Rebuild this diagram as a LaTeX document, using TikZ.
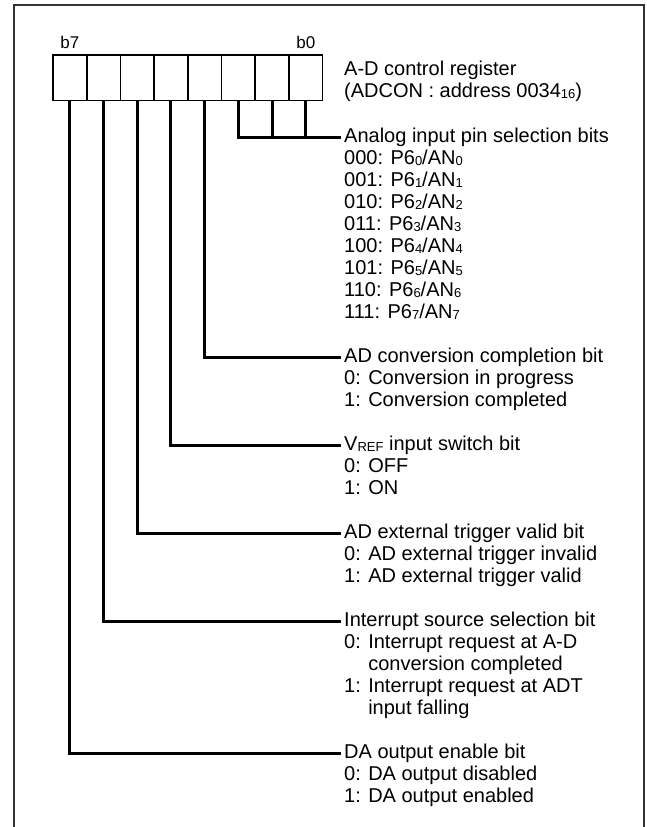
\documentclass[tikz,border=0pt]{standalone}
\usepackage{fontspec}
\setmainfont{Liberation Sans}
\usetikzlibrary{positioning}

\newcommand{\lowidx}[1]{{\fontsize{13}{13}\selectfont\raisebox{-0.5pt}{#1}}}

\begin{document}
\begin{tikzpicture}[
    x=1pt, y=-1pt, % work in pixels, y pointing down
    cell/.style={draw, line width=1.7pt, minimum width=33.7pt, minimum height=45.5pt, inner sep=0pt, outer sep=0pt}, % one register bit
    bitlabel/.style={font=\fontsize{17}{17}\selectfont, inner sep=0pt},
    desc/.style={align=left, anchor=north west, inner sep=0pt, font=\fontsize{20}{22}\selectfont,
        execute at begin node=\rule{0pt}{16pt}}, % bit description, first line 16pt high
    wire/.style={line width=3pt, line join=miter} % leader line
]

    % --- Frame ---
    \useasboundingbox (0,0) rectangle (647,827);
    \draw[line width=2pt, black!80] (13.5,827) -- (13.5,5) -- (644,5) -- (644,827);

    % --- Register cells (b7 on the left) ---
    \node[cell, anchor=west] (bit7) at (53,77.75) {};
    \node[cell, right=0pt of bit7] (bit6) {};
    \node[cell, right=0pt of bit6] (bit5) {};
    \node[cell, right=0pt of bit5] (bit4) {};
    \node[cell, right=0pt of bit4] (bit3) {};
    \node[cell, right=0pt of bit3] (bit2) {};
    \node[cell, right=0pt of bit2] (bit1) {};
    \node[cell, right=0pt of bit1] (bit0) {};
    \node[bitlabel, above=6pt of bit7] (b7lbl) {b7};
    \node[bitlabel, above=6pt of bit0] (b0lbl) {b0};

    % --- Descriptions ---
    \node[desc] (regname) at (344,61) {A-D control register\\(ADCON : address 0034\lowidx{16})};
    \node[desc] (pinsel) at (344,128) {Analog input pin selection bits\\
        000: P6\lowidx{0}/AN\lowidx{0}\\001: P6\lowidx{1}/AN\lowidx{1}\\
        010: P6\lowidx{2}/AN\lowidx{2}\\011: P6\lowidx{3}/AN\lowidx{3}\\
        100: P6\lowidx{4}/AN\lowidx{4}\\101: P6\lowidx{5}/AN\lowidx{5}\\
        110: P6\lowidx{6}/AN\lowidx{6}\\111: P6\lowidx{7}/AN\lowidx{7}};
    \node[desc] (convbit) at (344,348) {AD conversion completion bit\\0: Conversion in progress\\1: Conversion completed};
    \node[desc] (vrefbit) at (344,436) {V\lowidx{REF} input switch bit\\0: OFF\\1: ON};
    \node[desc] (trigbit) at (344,524) {AD external trigger valid bit\\0: AD external trigger invalid\\1: AD external trigger valid};
    \node[desc] (intbit) at (344,612) {Interrupt source selection bit\\0: Interrupt request at A-D\\
        \hphantom{0: }conversion completed\\1: Interrupt request at ADT\\\hphantom{1: }input falling};
    \node[desc] (dabit) at (344,744) {DA output enable bit\\0: DA output disabled\\1: DA output enabled};

    % --- Leader ends, level with the first text line ---
    \coordinate (pinselend) at ([xshift=-3pt, yshift=-9pt]pinsel.north west);
    \coordinate (convend) at ([xshift=-3pt, yshift=-9pt]convbit.north west);
    \coordinate (vrefend) at ([xshift=-3pt, yshift=-9pt]vrefbit.north west);
    \coordinate (trigend) at ([xshift=-3pt, yshift=-9pt]trigbit.north west);
    \coordinate (intend) at ([xshift=-3pt, yshift=-9pt]intbit.north west);
    \coordinate (daend) at ([xshift=-3pt, yshift=-9pt]dabit.north west);

    % --- Leaders ---
    \draw[wire] (bit2.south) |- (pinselend);
    \draw[wire] (bit1.south) -- (bit1.south |- pinselend);
    \draw[wire] (bit0.south) -- (bit0.south |- pinselend);
    \draw[wire] (bit3.south) |- (convend);
    \draw[wire] (bit4.south) |- (vrefend);
    \draw[wire] (bit5.south) |- (trigend);
    \draw[wire] (bit6.south) |- (intend);
    \draw[wire] (bit7.south) |- (daend);

\end{tikzpicture}
\end{document}
